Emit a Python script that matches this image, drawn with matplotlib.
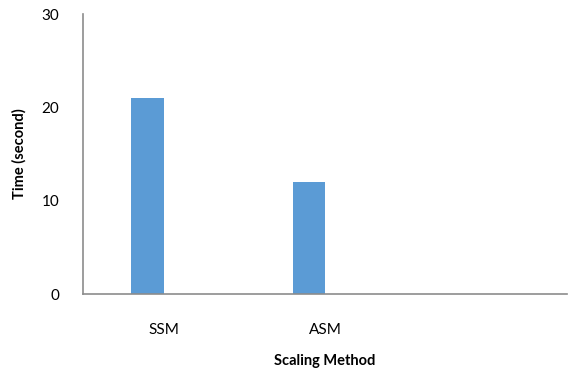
import matplotlib
matplotlib.use("Agg")
import matplotlib.pyplot as plt
import numpy as np

# Chart data
methods = ["SSM", "ASM", ""]
times = [21, 12, None]
y_ticks = [0, 10, 20, 30]

plt.rcParams['font.family'] = ['Lato', 'DejaVu Sans']

fig = plt.figure(figsize=(5.68, 3.76), dpi=100)
ax = fig.add_axes([83 / 568, 1 - 294 / 376, 484 / 568, 280 / 376])

x = np.arange(len(methods))
bar_w = 0.2
vals = [v for v in times if v is not None]
xs = x[:len(vals)] - bar_w / 2
ax.bar(xs, vals, width=bar_w, color="#5B9BD5", edgecolor="none", zorder=2)

ax.set_xlim(-0.5, len(methods) - 0.5)
ax.set_ylim(0, 30)
ax.set_yticks(y_ticks)
ax.set_xticks(x)
ax.set_xticklabels(methods)

for side in ("top", "right"):
    ax.spines[side].set_visible(False)
for side in ("left", "bottom"):
    ax.spines[side].set_color("#8C8C8C")
    ax.spines[side].set_linewidth(1.2)

ax.tick_params(axis="y", length=0, pad=17, labelsize=11, labelcolor="#000000")
ax.tick_params(axis="x", length=0, pad=21, labelsize=11, labelcolor="#000000")

ax.set_xlabel("Scaling Method", fontsize=10.5, fontweight="bold", labelpad=12)
ax.set_ylabel("Time (second)", fontsize=10.5, fontweight="bold", labelpad=11)

fig.savefig("out.png", dpi=100)
